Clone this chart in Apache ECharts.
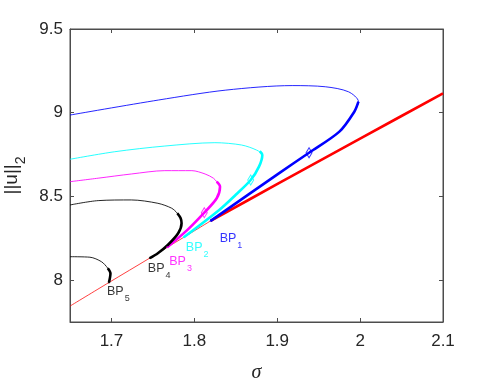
<!DOCTYPE html>
<html>
<head>
<meta charset="utf-8">
<script src="https://cdn.jsdelivr.net/npm/echarts@6/dist/echarts.min.js"></script>
<style>html,body{margin:0;padding:0;background:#fff;}#c{width:491px;height:382px;}</style>
</head>
<body>
<div id="c"></div>
<script>
// ---- data (sigma, ||u||_2) ----
const xTicks = [1.7, 1.8, 1.9, 2, 2.1];
const yTicks = [8, 8.5, 9, 9.5];

const redThin = [[1.65, 7.845], [1.697, 7.986], [1.7463, 8.132], [1.7673, 8.196], [1.7873, 8.256], [1.8197, 8.354]];
const redThick = [[1.8197, 8.354], [1.902, 8.579], [2.0, 8.845], [2.1, 9.116]];

const bp1Curve = [[1.65, 8.986], [1.757, 9.076], [1.838, 9.135], [1.918, 9.162], [1.958, 9.155], [1.986, 9.125], [1.998, 9.066], [1.993, 9.006], [1.975, 8.887], [1.9384, 8.761], [1.902, 8.638], [1.8197, 8.354]];
const bp1Thick = [[1.998, 9.066], [1.993, 9.006], [1.975, 8.887], [1.9384, 8.761], [1.902, 8.638], [1.8197, 8.354]];

const bp2Curve = [[1.65, 8.722], [1.704, 8.767], [1.7644, 8.801], [1.8248, 8.821], [1.857, 8.807], [1.875, 8.777], [1.882, 8.748], [1.878, 8.678], [1.868, 8.598], [1.85, 8.51], [1.83, 8.419], [1.7873, 8.256]];
const bp2Thick = [[1.879, 8.77], [1.882, 8.748], [1.878, 8.678], [1.868, 8.598], [1.85, 8.51], [1.83, 8.419], [1.7873, 8.256]];

const bp3Curve = [[1.65, 8.588], [1.684, 8.609], [1.724, 8.634], [1.7644, 8.654], [1.797, 8.654], [1.813, 8.634], [1.823, 8.609], [1.827, 8.588], [1.831, 8.558], [1.827, 8.489], [1.812, 8.403], [1.7917, 8.30], [1.7673, 8.196]];
const bp3Thick = [[1.827, 8.588], [1.831, 8.558], [1.827, 8.489], [1.812, 8.403], [1.7917, 8.30], [1.7673, 8.196]];

const bp4Curve = [[1.65, 8.449], [1.684, 8.475], [1.724, 8.479], [1.756, 8.459], [1.7725, 8.43], [1.7795, 8.40], [1.7835, 8.37], [1.7846, 8.34], [1.7805, 8.28], [1.768, 8.21], [1.756, 8.161], [1.7463, 8.132]];
const bp4Thick = [[1.7795, 8.40], [1.7835, 8.37], [1.7846, 8.34], [1.7805, 8.28], [1.768, 8.21], [1.756, 8.161], [1.7463, 8.132]];

const bp5Curve = [[1.65, 8.14], [1.674, 8.137], [1.688, 8.11], [1.6956, 8.071], [1.6988, 8.04], [1.697, 7.986]];
const bp5Thick = [[1.6956, 8.071], [1.6988, 8.04], [1.697, 7.986]];

const diamondPts = [[1.9384, 8.761], [1.868, 8.598], [1.812, 8.403]];
const bpNames = ['1', '2', '3', '4', '5'];
const bpPoints = [[1.8197, 8.354], [1.7873, 8.256], [1.7673, 8.196], [1.7463, 8.132], [1.697, 7.986]];

// ---- styles ----
const colors = ['#0000ff', '#00ffff', '#ff00ff', '#000000', '#000000'];
const diamondColors = ['#0000ff', '#00ffff', '#ff00ff'];
const labelOffsets = [[10, 12], [3, 5], [3, 9], [-1, 5], [-1, 4]];
const axisColor = '#4d4d4d';
const textColor = '#262626';
const font = 'Liberation Sans, Arial, sans-serif';

function lineSeries(data, color, width, opacity) {
  return {
    type: 'line', data: data, symbol: 'none', smooth: 0.3, silent: true,
    lineStyle: { color: color, width: width, opacity: opacity === undefined ? 1 : opacity },
    z: width > 1.5 ? 3 : 2
  };
}

const series = [];
series.push(lineSeries(redThin, '#ff0000', 1, 0.75));
series.push(lineSeries(redThick, '#ff0000', 2.6));
const curves = [bp1Curve, bp2Curve, bp3Curve, bp4Curve, bp5Curve];
const thicks = [bp1Thick, bp2Thick, bp3Thick, bp4Thick, bp5Thick];
curves.forEach((c, i) => series.push(lineSeries(c, colors[i], 1, 0.85)));
thicks.forEach((c, i) => series.push(lineSeries(c, colors[i], 2.6)));

series.push({
  type: 'scatter', silent: true, z: 5,
  data: diamondPts.map((p, i) => ({
    value: p,
    itemStyle: { color: 'rgba(0,0,0,0)', borderColor: diamondColors[i], borderWidth: 1 }
  })),
  symbol: 'diamond', symbolSize: [6, 10]
});

series.push({
  type: 'scatter', silent: true, z: 6,
  data: bpPoints.map((p, i) => ({
    value: p,
    label: {
      show: true,
      position: labelOffsets[i],
      align: 'left', verticalAlign: 'top',
      formatter: '{b|BP}{s|' + bpNames[i] + '}',
      rich: {
        b: { fontSize: 12.5, lineHeight: 14, color: colors[i], fontFamily: font, verticalAlign: 'top' },
        s: { fontSize: 9, lineHeight: 9, color: colors[i], fontFamily: font, padding: [9, 0, 0, 1], verticalAlign: 'top' }
      }
    }
  })),
  symbol: 'circle', symbolSize: 2,
  itemStyle: { color: (params) => colors[params.dataIndex] }
});

// empty series so the mirrored (top/right) axes are drawn
series.push({ type: 'line', xAxisIndex: 1, yAxisIndex: 1, data: [], silent: true });

const chart = echarts.init(document.getElementById('c'), null, { renderer: 'canvas' });
chart.setOption({
  animation: false,
  backgroundColor: '#ffffff',
  grid: { left: 70, right: 48, top: 29, bottom: 60, containLabel: false, outerBoundsMode: 'none', show: true, borderColor: axisColor, borderWidth: 1, backgroundColor: 'transparent' },
  xAxis: [{
    type: 'value', min: 1.65, max: 2.1, position: 'bottom',
    axisLine: { show: true, onZero: false, lineStyle: { color: axisColor, width: 1 } },
    axisTick: { show: true, inside: true, length: 4, customValues: xTicks, lineStyle: { color: axisColor } },
    axisLabel: { show: true, customValues: xTicks, fontSize: 17, color: textColor, margin: 11, fontFamily: font },
    splitLine: { show: false },
    name: 'σ', nameLocation: 'middle', nameGap: 41,
    nameTextStyle: { fontFamily: 'Liberation Serif, DejaVu Serif, serif', fontStyle: 'italic', fontSize: 20, color: textColor }
  }, {
    type: 'value', min: 1.65, max: 2.1, position: 'top', show: true,
    axisLine: { show: true, onZero: false, lineStyle: { color: axisColor, width: 1 } },
    axisTick: { show: true, inside: true, length: 4, customValues: xTicks, lineStyle: { color: axisColor } },
    axisLabel: { show: false },
    splitLine: { show: false }
  }],
  yAxis: [{
    type: 'value', min: 7.75, max: 9.5, position: 'left',
    axisLine: { show: true, onZero: false, lineStyle: { color: axisColor, width: 1 } },
    axisTick: { show: true, inside: true, length: 4, customValues: yTicks, lineStyle: { color: axisColor } },
    axisLabel: { show: true, customValues: yTicks, fontSize: 17, color: textColor, margin: 7, fontFamily: font },
    splitLine: { show: false },
    name: '{m|||u||}{s|2}', nameLocation: 'middle', nameGap: 40, nameRotate: 90,
    nameTextStyle: {
      rich: {
        m: { fontSize: 19, color: textColor, fontFamily: font, lineHeight: 20, verticalAlign: 'top' },
        s: { fontSize: 14, color: textColor, fontFamily: font, lineHeight: 14, padding: [12, 0, 0, 0], verticalAlign: 'top' }
      }
    }
  }, {
    type: 'value', min: 7.75, max: 9.5, position: 'right', show: true,
    axisLine: { show: true, onZero: false, lineStyle: { color: axisColor, width: 1 } },
    axisTick: { show: true, inside: true, length: 4, customValues: yTicks, lineStyle: { color: axisColor } },
    axisLabel: { show: false },
    splitLine: { show: false }
  }],
  series: series
});
</script>
</body>
</html>
